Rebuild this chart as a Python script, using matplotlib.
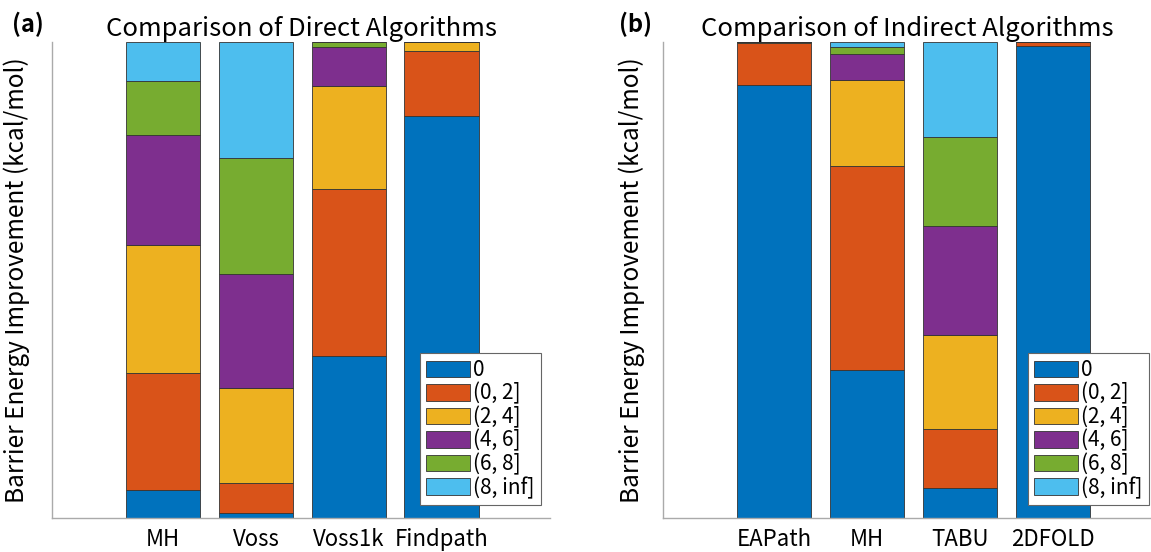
import numpy as np
import matplotlib
matplotlib.use('Agg')
import matplotlib.pyplot as plt

plt.rcParams['font.family'] = ['Noto Sans CJK JP', 'DejaVu Sans']

# Bins of barrier improvement (legend labels)
bins = ['0', '(0, 2]', '(2, 4]', '(4, 6]', '(6, 8]', '(8, inf]']
colors = ['#0072BD', '#D95319', '#EDB120', '#7E2F8E', '#77AC30', '#4DBEEE']

# (a) direct algorithms - fraction of instances in each bin
direct_names = ['MH', 'Voss', 'Voss1k', 'Findpath']
direct_0 = [0.059, 0.011, 0.340, 0.845]
direct_0_2 = [0.246, 0.063, 0.351, 0.136]
direct_2_4 = [0.269, 0.199, 0.217, 0.019]
direct_4_6 = [0.231, 0.240, 0.081, 0.0]
direct_6_8 = [0.113, 0.243, 0.011, 0.0]
direct_8_inf = [0.082, 0.244, 0.0, 0.0]

# (b) indirect algorithms
indirect_names = ['EAPath', 'MH', 'TABU', '2DFOLD']
indirect_0 = [0.910, 0.311, 0.063, 0.992]
indirect_0_2 = [0.088, 0.428, 0.124, 0.008]
indirect_2_4 = [0.002, 0.181, 0.197, 0.0]
indirect_4_6 = [0.0, 0.055, 0.229, 0.0]
indirect_6_8 = [0.0, 0.014, 0.187, 0.0]
indirect_8_inf = [0.0, 0.011, 0.200, 0.0]

direct = [direct_0, direct_0_2, direct_2_4, direct_4_6, direct_6_8, direct_8_inf]
indirect = [indirect_0, indirect_0_2, indirect_2_4, indirect_4_6, indirect_6_8, indirect_8_inf]

fig = plt.figure(figsize=(11.51, 5.52), dpi=100)
ax1 = fig.add_axes([52 / 1151, 1 - 518 / 552, (550 - 52) / 1151, 476 / 552])
ax2 = fig.add_axes([663 / 1151, 1 - 518 / 552, (1151 - 663) / 1151, 476 / 552])


def stacked(ax, names, series, title, tag, xlim, legx, labx, tagx):
    x = np.arange(1, len(names) + 1)
    bottom = np.zeros(len(names))
    for vals, c, lab in zip(series, colors, bins):
        ax.bar(x, vals, 0.8, bottom=bottom, color=c, edgecolor='#333333',
               linewidth=0.6, label=lab)
        bottom += np.array(vals)
    ax.set_xlim(*xlim)
    ax.set_ylim(0, 1)
    ax.set_xticks(x)
    ax.set_xticklabels(names, fontsize=16)
    ax.tick_params(axis='x', length=0, pad=7)
    ax.set_yticks([])
    for s in ['top', 'right']:
        ax.spines[s].set_visible(False)
    for s in ['left', 'bottom']:
        ax.spines[s].set_color('#aaaaaa')
        ax.spines[s].set_linewidth(1.0)
    ax.set_title(title, fontsize=18.5, pad=2)
    ax.set_ylabel('Barrier Energy Improvement (kcal/mol)', fontsize=17.5)
    ax.yaxis.set_label_coords(labx, 0.5)
    ax.text(tagx, 1.01, tag, transform=ax.transAxes, fontsize=17,
            ha='center', va='bottom', fontweight='bold')
    leg = ax.legend(loc='lower right', bbox_to_anchor=(legx, 0.027), fontsize=15,
                    frameon=True, fancybox=False, edgecolor='#666666',
                    framealpha=1.0, handlelength=2.1, handleheight=0.85,
                    handletextpad=0.15, labelspacing=0.06, borderpad=0.3,
                    borderaxespad=0)
    leg.get_frame().set_linewidth(0.8)
    for h in leg.legend_handles:
        h.set_edgecolor('#333333')


stacked(ax1, direct_names, direct, 'Comparison of Direct Algorithms', '(a)',
        (-0.2, 5.17), 0.982, -0.044, -0.048)
stacked(ax2, indirect_names, indirect, 'Comparison of Indirect Algorithms', '(b)',
        (-0.19, 5.05), 0.996, -0.037, -0.057)

fig.savefig('out.png', dpi=100)
